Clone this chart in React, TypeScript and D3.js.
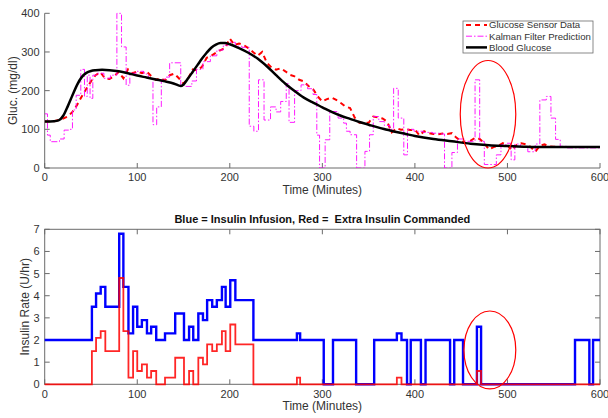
import React from 'react';
import * as d3 from 'd3';

type Pt = [number, number];

// minutes on both panels
const minuteTicks = [0, 100, 200, 300, 400, 500, 600];
const glucoseTicks = [0, 100, 200, 300, 400];
const insulinTicks = [0, 1, 2, 3, 4, 5, 6, 7];

const legendLabels = ['Glucose Sensor Data', 'Kalman Filter Prediction', 'Blood Glucose'];
const glucoseLabel = 'Gluc. (mg/dl)';
const insulinLabel = 'Insulin Rate (U/hr)';
const timeLabel = 'Time (Minutes)';
const insulinTitle = 'Blue = Insulin Infusion, Red =  Extra Insulin Commanded';

// true blood glucose (smooth curve)
const bloodGlucose: Pt[] = [
  [0, 120], [10, 121], [15, 123], [20, 135], [25, 160], [30, 188], [35, 215], [40, 235],
  [45, 246], [50, 251], [55, 253], [62, 254], [70, 253], [80, 250], [90, 245], [100, 239],
  [110, 234], [120, 229], [130, 224], [140, 218], [147, 212], [150, 216], [155, 232],
  [160, 249], [165, 266], [170, 283], [175, 298], [180, 311], [185, 319], [190, 323],
  [195, 323], [200, 320], [210, 310], [220, 298], [230, 283], [240, 263], [250, 240],
  [260, 218], [270, 199], [280, 182], [290, 169], [300, 157], [310, 145], [320, 135],
  [330, 127], [340, 119], [350, 112], [360, 105], [370, 99], [380, 93], [390, 88],
  [400, 83], [420, 75], [440, 69], [460, 63], [480, 59], [500, 57], [520, 55], [540, 54],
  [560, 54], [600, 54],
];

// CGM sensor readings
const sensorGlucose: Pt[] = [
  [0, 120], [5, 120], [10, 121], [15, 124], [20, 128], [25, 133], [30, 145], [35, 163],
  [40, 185], [45, 205], [50, 224], [55, 240], [60, 248], [65, 232], [70, 230], [75, 238],
  [80, 248], [85, 232], [90, 255], [95, 245], [100, 250], [105, 245], [110, 250], [115, 238],
  [120, 228], [125, 232], [130, 226], [135, 240], [140, 244], [145, 232], [150, 218],
  [155, 232], [160, 255], [165, 252], [170, 262], [175, 285], [180, 290], [185, 298],
  [190, 305], [195, 310], [200, 335], [205, 318], [210, 322], [215, 318], [220, 310],
  [225, 300], [230, 290], [235, 300], [240, 272], [245, 260], [250, 254], [255, 258],
  [260, 250], [265, 241], [270, 237], [275, 228], [280, 224], [285, 212], [290, 204],
  [295, 185], [300, 172], [305, 178], [310, 182], [315, 176], [320, 168], [325, 159],
  [330, 155], [335, 130], [340, 117], [345, 117], [350, 117], [355, 133], [360, 131],
  [365, 128], [370, 120], [375, 92], [380, 103], [385, 99], [390, 100], [395, 98],
  [400, 99], [405, 84], [410, 95], [415, 90], [420, 88], [425, 87], [430, 89], [435, 88],
  [440, 90], [445, 78], [450, 70], [455, 64], [460, 70], [465, 78], [470, 75], [475, 64],
  [480, 48], [485, 54], [490, 57], [495, 64], [500, 58], [505, 46], [510, 60], [515, 64],
  [520, 61], [525, 55], [530, 42], [535, 58], [540, 61], [545, 56], [550, 55], [555, 54],
];

// Kalman filter prediction (held between updates)
const kalmanPrediction: Pt[] = [
  [0, 140], [3, 85], [6, 68], [16, 75], [21, 98], [27, 100], [30, 150], [34, 188],
  [39, 255], [43, 185], [46, 240], [49, 180], [52, 240], [57, 245], [64, 232], [71, 240],
  [78, 400], [83, 313], [88, 214], [92, 245], [99, 250], [107, 243], [112, 232], [117, 112],
  [121, 158], [126, 228], [130, 235], [135, 272], [147, 214], [151, 211], [159, 225],
  [164, 255], [171, 275], [179, 290], [186, 305], [193, 318], [199, 325], [206, 315],
  [213, 312], [221, 108], [226, 95], [231, 228], [237, 124], [244, 158], [250, 145],
  [255, 172], [261, 218], [264, 118], [270, 200], [277, 215], [284, 205], [290, 190],
  [294, 85], [297, 0], [303, 73], [308, 146], [317, 129], [323, 116], [326, 95], [330, 86],
  [337, 0], [346, 43], [351, 86], [355, 133], [361, 120], [367, 110], [373, 100], [377, 206],
  [382, 129], [388, 34], [392, 100], [399, 95], [409, 92], [419, 90], [427, 88], [432, 0],
  [440, 40], [446, 75], [454, 69], [465, 228], [470, 69], [475, 9], [488, 34], [493, 60],
  [499, 64], [504, 21], [508, 62], [514, 55], [522, 42], [530, 62], [535, 176], [542, 185],
  [547, 129], [552, 74], [557, 56], [564, 52], [600, 52],
];

// insulin infusion rate (blue)
const insulinInfusion: Pt[] = [
  [0, 2], [51, 3.5], [55.5, 4.1], [60.5, 4.4], [65.5, 3.5], [80.5, 6.8], [85, 4.4],
  [90.5, 2.3], [95.5, 3.5], [100, 2.6], [105, 2.9], [110.5, 2.3], [115, 2.6], [120.5, 2],
  [130, 2.3], [141, 3.2], [150.5, 2], [156, 2.6], [160.5, 2], [166, 3.2], [171, 2.9],
  [175.5, 3.8], [181, 3.5], [186, 3.8], [191.5, 4.4], [195.5, 3.5], [200.5, 4.7], [206, 3.8],
  [225.5, 2], [272.5, 2.3], [276, 2], [301.5, 0], [311.5, 2], [336.5, 0], [356, 2],
  [380.5, 2.3], [385.5, 2], [391.5, 0], [395.5, 2], [406.5, 0], [411.5, 2], [438, 0],
  [442.5, 2], [452, 0], [467, 2.6], [471.5, 0], [573, 2], [588.5, 0], [592.5, 2], [600, 2],
];

// extra insulin commanded (red)
const extraInsulin: Pt[] = [
  [0, 0], [51, 1.5], [55.5, 2.1], [60.5, 2.4], [65.5, 1.5], [80.5, 4.8], [85, 2.4],
  [90.5, 0.3], [95.5, 1.5], [100, 0.6], [105, 0.9], [110.5, 0.3], [115, 0.6], [120.5, 0],
  [130, 0.3], [141, 1.2], [150.5, 0], [156, 0.6], [160.5, 0], [166, 1.2], [171, 0.9],
  [175.5, 1.8], [181, 1.5], [186, 1.8], [191.5, 2.4], [195.5, 1.5], [200.5, 2.7], [206, 1.8],
  [225.5, 0], [272.5, 0.3], [276, 0], [380.5, 0.3], [385.5, 0], [467, 0.6], [471.5, 0],
  [600, 0],
];

// circled region (minutes, value, radius minutes, radius value)
const glucoseCircle = [479, 139, 30, 139];
const insulinCircle = [481, 1.55, 28, 1.76];

const font = 'Helvetica, "Liberation Sans", Arial, sans-serif';
const axisColor = '#6b6b6b';
const textColor = '#333';
const sensorDash = '5,4';
const kalmanDash = '6,2,1.5,2';

export default function App() {
  const width = 608;
  const height = 418;

  const x = d3.scaleLinear([0, 600], [44.7, 600]);
  const yG = d3.scaleLinear([0, 400], [168, 13.3]);
  const yI = d3.scaleLinear([0, 7], [384.3, 229.3]);

  const smoothLine = d3.line<Pt>().x(d => x(d[0])).y(d => yG(d[1])).curve(d3.curveMonotoneX);
  const sensorLine = d3.line<Pt>().x(d => x(d[0])).y(d => yG(d[1]));
  const kalmanLine = d3.line<Pt>().x(d => x(d[0])).y(d => yG(d[1])).curve(d3.curveStepAfter);
  const insulinLine = d3.line<Pt>().x(d => x(d[0])).y(d => yI(d[1])).curve(d3.curveStepAfter);

  const [x0, x1] = x.range();
  const tickLen = 5;

  const legendX = 463;
  const legendY = 21;
  const legendRow = 11.2;

  return (
    <svg width={width} height={height} style={{ position: 'absolute', left: 0, top: 0, background: '#fff' }}
      fontFamily={font}>
      <defs>
        <clipPath id="clipTop">
          <rect x={x0} y={yG(400) - 1} width={x1 - x0} height={yG(0) - yG(400) + 1} />
        </clipPath>
      </defs>

      {/* ---------- glucose panel ---------- */}
      <g>
        <line x1={x0} x2={x1} y1={yG(0)} y2={yG(0)} stroke={axisColor} />
        <line x1={x0} x2={x0} y1={yG(0)} y2={yG(400)} stroke={axisColor} />
        {minuteTicks.map(t => (
          <g key={t}>
            <line x1={x(t)} x2={x(t)} y1={yG(0)} y2={yG(0) - tickLen} stroke={axisColor} />
            <text x={x(t)} y={181} textAnchor="middle" fontSize={11} fill={textColor}>{t}</text>
          </g>
        ))}
        {glucoseTicks.map(v => (
          <g key={v}>
            <line x1={x0} x2={x0 + tickLen} y1={yG(v)} y2={yG(v)} stroke={axisColor} />
            <text x={39.5} y={yG(v)} dy="0.36em" textAnchor="end" fontSize={11} fill={textColor}>{v}</text>
          </g>
        ))}
        <text x={(x0 + x1) / 2} y={194} textAnchor="middle" fontSize={12} fill={textColor}>{timeLabel}</text>
        <text transform={`translate(17,${(yG(0) + yG(400)) / 2}) rotate(-90)`} textAnchor="middle"
          fontSize={12} fill={textColor}>{glucoseLabel}</text>

        <g clipPath="url(#clipTop)" fill="none">
          <path d={sensorLine(sensorGlucose) || ''} stroke="#ff0000" strokeWidth={2} strokeDasharray={sensorDash} />
          <path d={kalmanLine(kalmanPrediction) || ''} stroke="#ff00ff" strokeWidth={0.9} strokeDasharray={kalmanDash} />
          <path d={smoothLine(bloodGlucose) || ''} stroke="#000" strokeWidth={2.5} />
        </g>

        <ellipse cx={x(glucoseCircle[0])} cy={yG(glucoseCircle[1])}
          rx={x(glucoseCircle[2]) - x(0)} ry={yG(0) - yG(glucoseCircle[3])}
          fill="none" stroke="#ff0000" strokeWidth={1.2} />

        {/* legend */}
        <rect x={legendX} y={legendY} width={130} height={32} fill="#fff" stroke={axisColor} strokeWidth={0.8} />
        {legendLabels.map((label, i) => {
          const cy = legendY + 4 + i * legendRow;
          const stroke = i === 0 ? '#ff0000' : i === 1 ? '#ff00ff' : '#000';
          const sw = i === 0 ? 2 : i === 1 ? 0.9 : 2.5;
          const dash = i === 0 ? sensorDash : i === 1 ? kalmanDash : undefined;
          return (
            <g key={label}>
              <line x1={legendX + 3} x2={legendX + 24} y1={cy} y2={cy} stroke={stroke} strokeWidth={sw}
                strokeDasharray={dash} />
              <text x={legendX + 26} y={cy} dy="0.35em" fontSize={9.6} fill={textColor}>{label}</text>
            </g>
          );
        })}
      </g>

      {/* ---------- insulin panel ---------- */}
      <g>
        <rect x={x0} y={yI(7)} width={x1 - x0} height={yI(0) - yI(7)} fill="none" stroke={axisColor} />
        {minuteTicks.map(t => (
          <g key={t}>
            <line x1={x(t)} x2={x(t)} y1={yI(0)} y2={yI(0) - tickLen} stroke={axisColor} />
            <line x1={x(t)} x2={x(t)} y1={yI(7)} y2={yI(7) + tickLen} stroke={axisColor} />
            <text x={x(t)} y={397.5} textAnchor="middle" fontSize={11} fill={textColor}>{t}</text>
          </g>
        ))}
        {insulinTicks.map(v => (
          <g key={v}>
            <line x1={x0} x2={x0 + tickLen} y1={yI(v)} y2={yI(v)} stroke={axisColor} />
            <line x1={x1} x2={x1 - tickLen} y1={yI(v)} y2={yI(v)} stroke={axisColor} />
            <text x={39.5} y={yI(v)} dy="0.36em" textAnchor="end" fontSize={11} fill={textColor}>{v}</text>
          </g>
        ))}
        <text x={(x0 + x1) / 2} y={410} textAnchor="middle" fontSize={12} fill={textColor}>{timeLabel}</text>
        <text transform={`translate(29,${(yI(0) + yI(7)) / 2}) rotate(-90)`} textAnchor="middle"
          fontSize={12} fill={textColor}>{insulinLabel}</text>
        <text x={(x0 + x1) / 2} y={223} textAnchor="middle" fontSize={11} fontWeight="bold" fill="#111"
          style={{ whiteSpace: 'pre' }}>{insulinTitle}</text>

        <g fill="none">
          <path d={insulinLine(insulinInfusion) || ''} stroke="#0000ff" strokeWidth={2.4} />
          <path d={insulinLine(extraInsulin) || ''} stroke="#ff0000" strokeWidth={1.8} strokeOpacity={0.85} />
        </g>

        <ellipse cx={x(insulinCircle[0])} cy={yI(insulinCircle[1])}
          rx={x(insulinCircle[2]) - x(0)} ry={yI(0) - yI(insulinCircle[3])}
          fill="none" stroke="#ff0000" strokeWidth={1.2} />
      </g>
    </svg>
  );
}
